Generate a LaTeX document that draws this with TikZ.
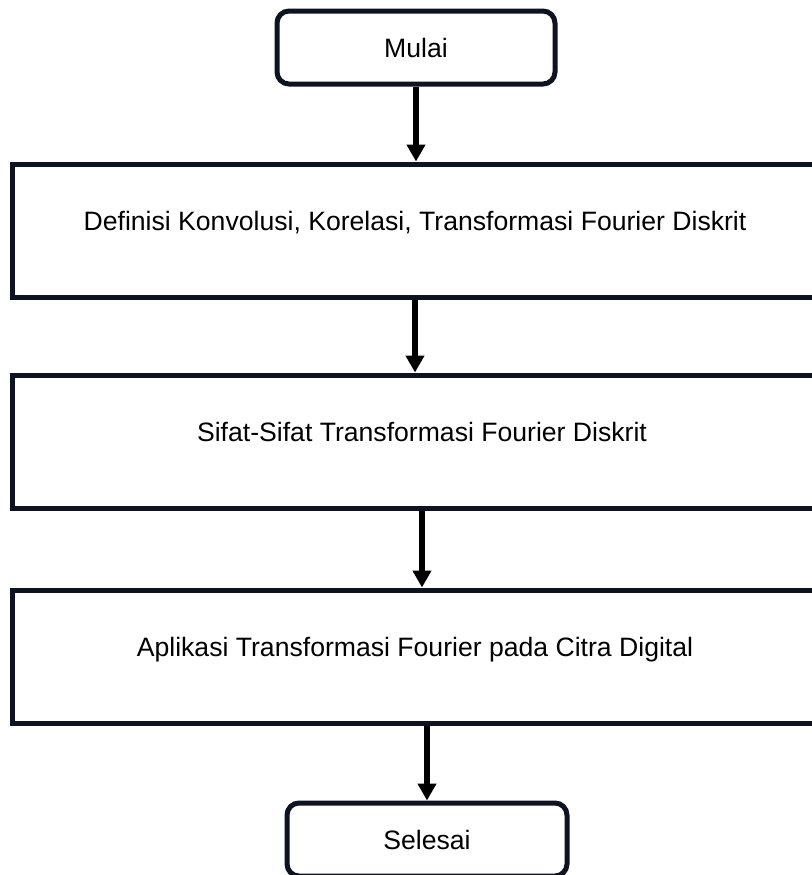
\documentclass[tikz,border=0pt]{standalone}
\usepackage{fontspec}
\setmainfont{Liberation Sans}
\usepackage{xcolor}
\usepackage{tikz}
\usetikzlibrary{arrows.meta,calc}

\definecolor{boxline}{RGB}{13,19,32}

\begin{document}
\begin{tikzpicture}[x=0.5pt,y=-0.5pt,>={Triangle[length=8.5pt,width=9pt]},
  every node/.style={font=\fontsize{13.3}{16}\selectfont},
  terminal/.style={draw=boxline,line width=2.5pt,rounded corners=6pt,
    minimum width=139pt,minimum height=36.5pt,inner sep=0pt},
  process/.style={draw=boxline,line width=2.5pt,minimum height=66.5pt,
    inner sep=0pt,text height=1.2ex,text depth=1.2ex},
  flow/.style={->,line width=2.7pt,black}]
  \clip (0,0) rectangle (812,875);
  \fill[white] (0,0) rectangle (812,875);

  \node[terminal] (mulai) at (416,47.5) {Mulai};
  \node[process,minimum width=403pt] (definisi) at (415,230.5)
    {Definisi Konvolusi, Korelasi, Transformasi Fourier Diskrit};
  \node[process,minimum width=410pt] (sifat) at (422,441.5)
    {Sifat-Sifat Transformasi Fourier Diskrit};
  \node[process,minimum width=403pt] (aplikasi) at (415,656.5)
    {Aplikasi Transformasi Fourier pada Citra Digital};
  \node[terminal,minimum width=140pt] (selesai) at (427,839.5) {Selesai};

  \draw[flow] (mulai.south) -- (mulai.south |- definisi.north);
  \draw[flow] (definisi.south) -- (definisi.south |- sifat.north);
  \draw[flow] (sifat.south) -- (sifat.south |- aplikasi.north);
  \draw[flow] (selesai.north |- aplikasi.south) -- (selesai.north);
\end{tikzpicture}
\end{document}
